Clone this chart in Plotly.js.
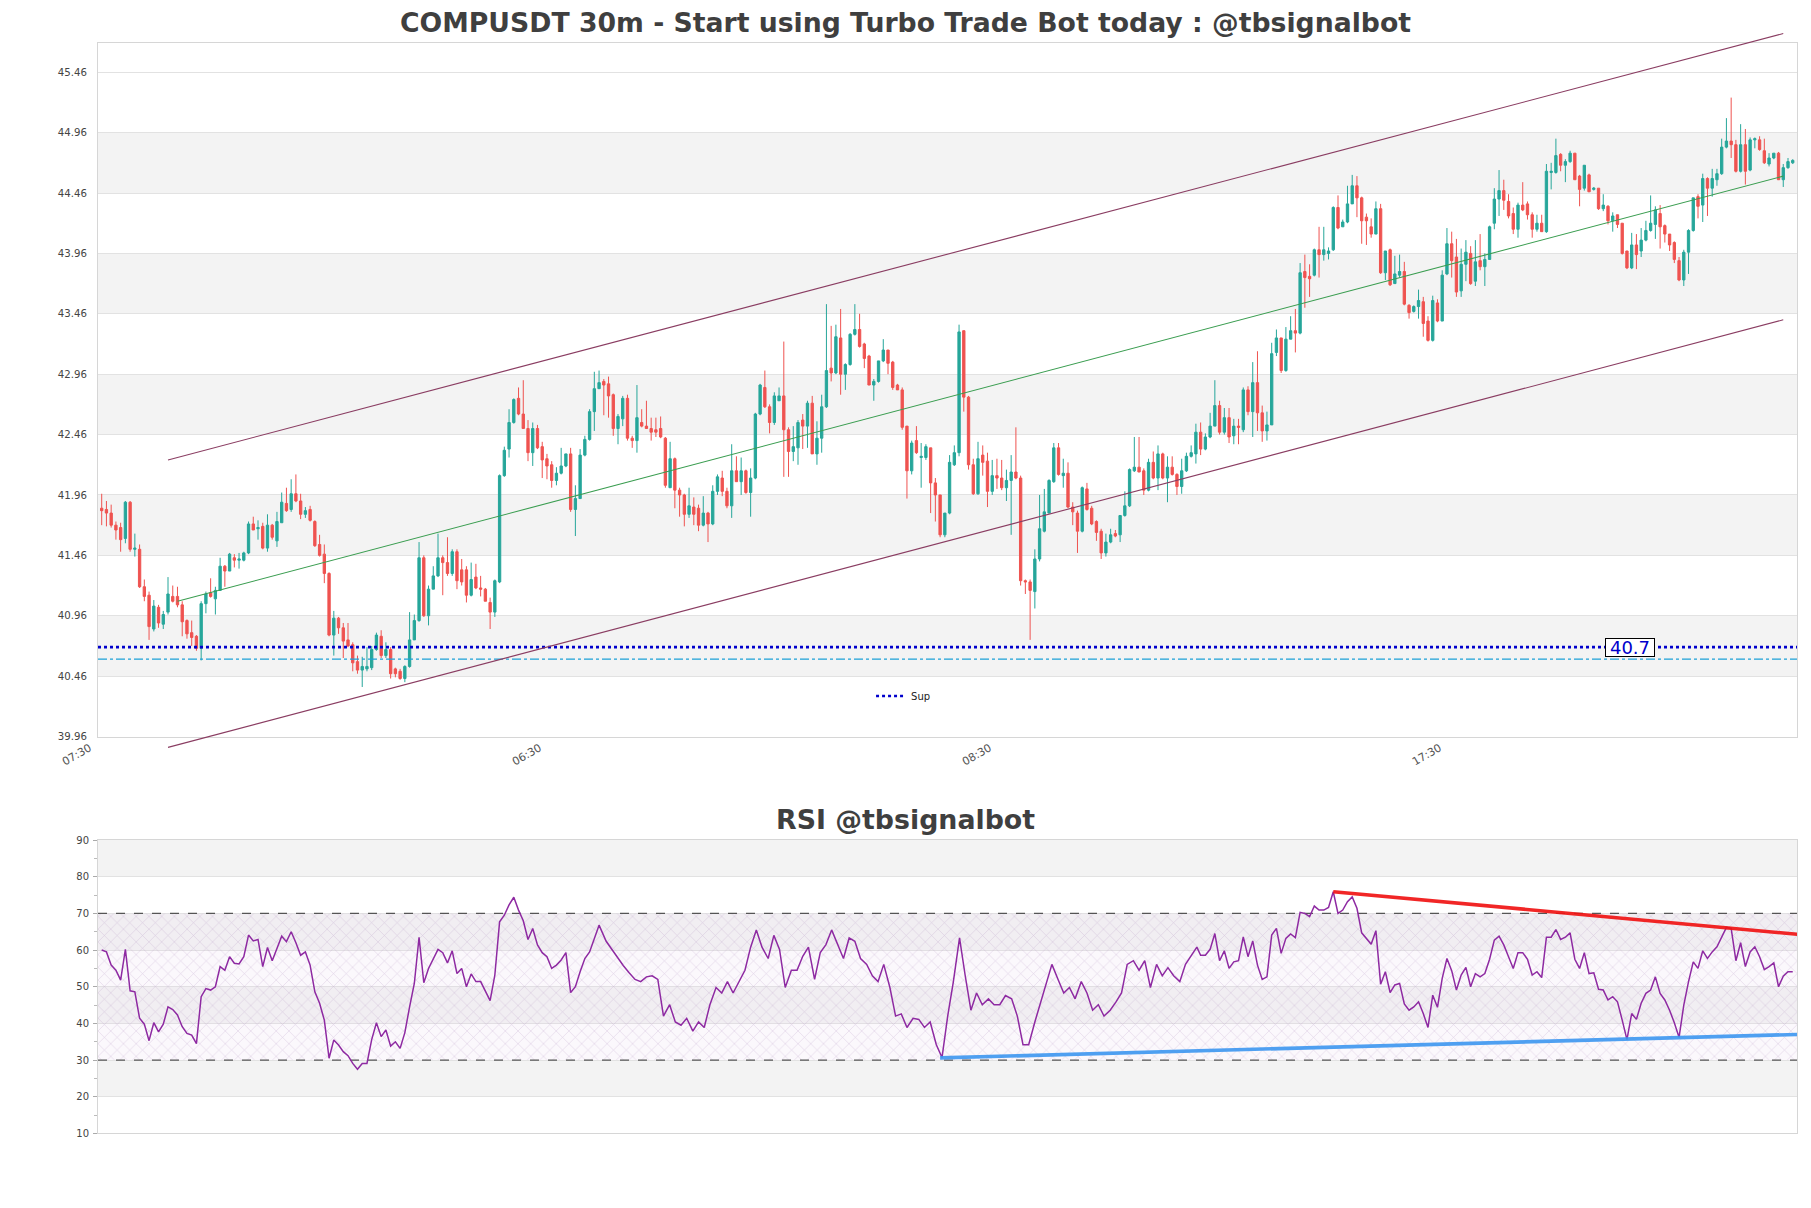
<!DOCTYPE html>
<html><head><meta charset="utf-8">
<script src="https://cdn.plot.ly/plotly-3.0.1.min.js"></script>
<style>html,body{margin:0;padding:0;background:#fff}</style>
</head><body><div id="chart" style="width:1811px;height:1208px"></div>
<script>
const xTickIdx=[0,95,190,285];
const xTickLabels=["07:30","06:30","08:30","17:30"];

const openP=[41.85,41.84,41.81,41.71,41.69,41.60,41.90,41.51,41.51,41.20,
41.13,40.85,41.03,40.89,40.99,41.12,41.12,41.05,40.92,40.82,
40.79,40.69,41.06,41.15,41.10,41.17,41.37,41.33,41.44,41.42,
41.42,41.48,41.72,41.68,41.70,41.52,41.71,41.58,41.73,41.89,
41.84,41.97,41.91,41.80,41.84,41.74,41.55,41.47,41.31,40.80,
40.94,40.86,40.76,40.72,40.58,40.51,40.52,40.53,40.68,
40.79,40.63,40.68,40.52,40.50,40.44,40.54,40.76,40.92,41.44,40.96,
41.18,41.29,41.44,41.40,41.31,41.49,41.34,41.34,41.13,41.28,
41.19,41.18,41.07,40.99,41.24,42.12,42.34,42.56,42.76,42.63,
42.51,42.31,42.51,42.36,42.26,42.21,42.08,42.14,42.20,42.30,
41.84,41.93,42.29,42.42,42.65,42.84,42.90,42.88,42.79,42.51,
42.59,42.76,42.43,42.41,42.56,42.53,42.51,42.50,42.51,42.43,
42.02,42.26,42.00,41.96,41.80,41.86,41.85,41.71,41.81,41.72,
41.99,42.10,41.99,41.87,42.16,42.07,42.16,41.98,42.10,42.63,
42.85,42.69,42.56,42.74,42.78,42.50,42.32,42.35,42.58,42.53,
42.72,42.30,42.43,42.69,43.01,42.97,43.26,42.96,43.04,43.29,
43.33,43.21,43.11,42.87,42.90,43.07,43.16,43.06,42.87,42.83,
42.53,42.16,42.41,42.27,42.27,42.35,42.06,41.96,41.63,41.81,
42.21,42.31,43.32,42.77,42.21,41.97,42.29,42.24,41.99,42.12,
42.10,42.02,42.08,42.15,42.10,41.25,41.24,41.16,41.43,41.66,
41.81,42.07,42.35,42.12,42.14,41.86,41.81,41.66,42.01,41.85,
41.74,41.66,41.48,41.57,41.64,41.63,41.79,41.87,42.16,42.19,
42.16,42.00,42.23,42.10,42.30,42.10,42.19,42.13,42.03,42.16,
42.28,42.30,42.48,42.34,42.44,42.53,42.70,42.48,42.60,
42.45,42.53,42.50,42.83,42.65,42.89,42.64,42.49,42.54,43.14,43.26,
42.99,43.25,43.32,43.30,43.81,43.77,43.78,43.99,43.95,43.96,
43.99,44.34,44.18,44.22,44.37,44.52,44.42,44.26,44.18,44.12,
44.33,43.80,43.99,43.71,43.78,43.81,43.53,43.48,43.52,43.56,
43.40,43.24,43.55,43.40,43.79,44.04,43.93,43.65,43.87,43.96,
43.73,43.90,43.85,43.91,44.21,44.41,44.48,44.39,44.29,
44.16,44.36,44.37,44.28,44.16,44.21,44.14,44.63,44.63,44.78,44.69,
44.72,44.79,44.60,44.50,44.61,44.49,44.50,44.33,44.35,44.23,
44.28,44.21,43.98,43.84,44.03,43.98,44.07,44.15,44.20,44.29,
44.19,44.12,44.05,43.90,43.74,43.97,44.15,44.43,44.36,44.58,
44.50,44.57,44.62,44.84,44.89,44.86,44.64,44.86,44.65,44.90,
44.90,44.81,44.70,44.75,44.79,44.57,44.67,44.71];

const highP=[41.97,41.91,41.88,41.74,41.73,41.91,41.91,41.64,41.55,41.26,
41.16,41.09,41.05,41.00,41.28,41.21,41.20,41.08,40.93,40.92,
40.80,41.08,41.16,41.27,41.20,41.44,41.38,41.48,41.47,41.48,
41.49,41.74,41.78,41.75,41.73,41.80,41.72,41.82,41.98,42.02,
42.09,42.13,41.97,41.86,41.87,41.75,41.63,41.55,41.32,41.00,
40.95,40.90,40.90,40.74,40.63,40.62,40.70,40.71,40.82,
40.84,40.74,40.70,40.53,40.52,40.55,40.99,40.97,41.57,41.46,41.21,
41.37,41.64,41.46,41.61,41.51,41.51,41.43,41.37,41.40,41.39,
41.29,41.19,41.11,41.26,42.13,42.36,42.67,42.76,42.85,42.91,
42.58,42.56,42.54,42.40,42.30,42.24,42.19,42.35,42.30,42.35,
42.04,42.34,42.45,42.67,42.98,42.99,42.92,42.94,42.80,42.63,
42.78,42.79,42.45,42.87,42.67,42.74,42.60,42.60,42.61,42.44,
42.40,42.27,42.02,41.97,42.02,41.94,41.88,41.95,41.82,42.04,
42.13,42.16,42.02,42.38,42.28,42.27,42.17,42.18,42.64,42.88,
42.99,42.71,42.81,42.85,43.23,42.52,42.53,42.58,42.63,42.74,
42.78,42.57,42.79,43.54,43.36,43.37,43.50,43.05,43.30,43.54,
43.46,43.22,43.12,42.92,43.07,43.25,43.16,43.07,42.88,42.85,
42.53,42.41,42.53,42.39,42.38,42.35,42.10,41.96,41.81,42.29,
42.37,43.37,43.32,42.78,42.26,42.40,42.37,42.31,42.25,42.26,
42.25,42.17,42.29,42.52,42.12,41.26,41.26,41.51,41.96,42.01,
42.09,42.39,42.39,42.26,42.23,41.90,41.83,42.03,42.06,41.87,
41.75,41.68,41.64,41.68,41.67,41.79,41.99,42.18,42.44,42.44,
42.18,42.26,42.32,42.37,42.31,42.28,42.28,42.14,42.26,42.31,
42.37,42.55,42.56,42.47,42.64,42.91,42.74,42.68,42.68,
42.59,42.59,42.85,42.86,43.06,43.15,42.70,42.65,43.22,43.33,43.26,
43.35,43.44,43.50,43.88,43.95,43.87,44.00,44.18,44.18,44.01,
44.35,44.44,44.24,44.52,44.61,44.60,44.43,44.29,44.25,44.39,
44.37,43.98,44.00,43.94,43.95,43.89,43.54,43.53,43.66,43.60,
43.44,43.61,43.58,43.82,44.17,44.14,44.08,44.00,44.07,44.02,
44.07,44.12,43.96,44.19,44.50,44.65,44.57,44.45,44.34,
44.38,44.55,44.39,44.30,44.28,44.28,44.70,44.71,44.91,44.79,44.74,
44.81,44.79,44.61,44.69,44.62,44.51,44.50,44.45,44.36,44.30,
44.28,44.21,43.98,44.13,44.12,44.17,44.23,44.44,44.35,44.36,
44.20,44.12,44.06,43.93,43.99,44.16,44.42,44.45,44.62,44.59,
44.66,44.66,44.91,45.08,45.25,44.90,45.03,44.99,44.92,44.92,
44.93,44.91,44.79,44.79,44.80,44.70,44.75,44.74];

const lowP=[41.71,41.70,41.69,41.59,41.49,41.56,41.49,41.45,41.19,41.08,
40.76,40.83,40.86,40.85,40.97,41.07,41.03,40.79,40.77,40.71,
40.67,40.59,40.98,41.11,40.97,41.17,41.20,41.33,41.36,41.35,
41.41,41.47,41.67,41.59,41.51,41.49,41.59,41.53,41.73,41.82,
41.82,41.90,41.76,41.77,41.74,41.53,41.45,41.23,40.79,40.63,
40.81,40.61,40.70,40.50,40.48,40.37,40.50,40.51,40.67,
40.61,40.61,40.44,40.45,40.43,40.41,40.53,40.76,40.91,40.95,40.88,
41.18,41.28,41.13,41.29,41.29,41.18,41.21,41.07,41.12,41.18,
41.12,41.08,40.85,40.95,41.23,42.11,42.27,42.55,42.62,42.51,
42.24,42.20,42.34,42.10,42.09,42.02,42.04,42.13,42.19,41.82,
41.62,41.93,42.28,42.41,42.49,42.84,42.62,42.60,42.45,42.38,
42.53,42.41,42.35,42.31,42.52,42.51,42.41,42.44,42.43,42.02,
42.02,41.85,41.78,41.70,41.77,41.71,41.66,41.70,41.57,41.71,
41.96,41.95,41.85,41.77,42.07,41.96,41.97,41.78,42.09,42.62,
42.68,42.47,42.54,42.74,42.11,42.11,42.24,42.21,42.34,42.35,
42.30,42.21,42.31,42.68,42.90,42.96,42.79,42.83,43.03,43.28,
43.18,43.01,42.87,42.74,42.89,43.06,42.96,42.83,42.83,42.50,
41.93,42.13,42.30,42.02,42.25,41.81,41.74,41.61,41.61,41.80,
42.20,42.28,42.65,42.17,41.96,41.96,42.12,41.86,41.96,42.01,
42.00,41.91,41.63,42.09,41.21,41.14,40.76,41.02,41.41,41.65,
41.81,42.06,42.12,42.02,41.85,41.71,41.48,41.65,41.83,41.71,
41.58,41.43,41.45,41.56,41.61,41.57,41.78,41.86,42.15,42.15,
41.96,41.99,42.09,42.00,42.09,41.90,42.12,41.96,41.97,42.15,
42.27,42.22,42.29,42.33,42.43,42.53,42.46,42.46,42.39,
42.38,42.38,42.48,42.62,42.44,42.49,42.40,42.41,42.54,43.11,42.97,
42.98,43.25,43.14,43.29,43.51,43.60,43.77,43.76,43.90,43.91,
43.98,44.16,44.18,44.21,44.37,44.26,44.04,44.03,44.09,44.12,
43.79,43.74,43.69,43.71,43.76,43.53,43.42,43.47,43.42,43.27,
43.23,43.23,43.39,43.40,43.78,43.76,43.60,43.60,43.73,43.70,
43.69,43.82,43.69,43.91,44.16,44.27,44.32,44.25,44.12,
44.09,44.31,44.24,44.09,44.14,44.14,44.13,44.49,44.62,44.64,44.55,
44.71,44.57,44.35,44.48,44.47,44.48,44.32,44.31,44.20,44.14,
44.17,43.95,43.83,43.83,43.83,43.93,44.06,44.14,44.08,44.00,
44.05,43.98,43.88,43.73,43.69,43.79,44.14,44.25,44.22,44.27,
44.43,44.52,44.61,44.83,44.75,44.63,44.63,44.53,44.64,44.83,
44.81,44.70,44.68,44.74,44.57,44.51,44.66,44.70];

const closeP=[41.83,41.81,41.71,41.67,41.59,41.90,41.51,41.52,41.20,41.12,
40.87,41.04,40.90,40.97,41.14,41.08,41.05,40.91,40.81,40.78,
40.69,41.06,41.14,41.12,41.17,41.37,41.33,41.47,41.42,41.43,
41.48,41.72,41.67,41.69,41.52,41.71,41.61,41.74,41.90,41.83,
41.97,41.91,41.80,41.83,41.75,41.54,41.46,41.31,40.80,40.94,
40.86,40.75,40.71,40.57,40.51,40.54,40.54,40.68,40.80,
40.63,40.68,40.48,40.48,40.44,40.54,40.76,40.92,41.44,40.96,41.18,
41.29,41.44,41.40,41.31,41.49,41.25,41.24,41.13,41.26,41.19,
41.18,41.08,40.99,41.25,42.12,42.33,42.56,42.75,42.63,42.51,
42.31,42.51,42.35,42.25,42.20,42.08,42.14,42.20,42.30,41.84,
41.93,42.29,42.42,42.65,42.84,42.89,42.87,42.78,42.51,42.61,
42.76,42.43,42.41,42.60,42.53,42.51,42.48,42.48,42.44,42.04,
42.26,42.00,41.96,41.80,41.87,41.80,41.71,41.81,41.72,41.99,
42.11,41.99,41.87,42.16,42.07,42.16,41.98,42.10,42.63,42.87,
42.69,42.56,42.78,42.78,42.50,42.32,42.36,42.56,42.53,42.72,
42.30,42.43,42.69,42.99,42.97,43.27,42.96,43.04,43.29,43.33,
43.19,43.09,42.87,42.90,43.07,43.16,43.05,42.85,42.83,42.52,
42.16,42.39,42.31,42.28,42.36,42.06,41.96,41.63,41.81,42.23,
42.31,43.31,42.77,42.21,41.97,42.26,42.23,41.99,42.12,42.10,
42.02,42.08,42.15,42.10,41.25,41.24,41.17,41.43,41.68,41.82,
42.08,42.35,42.13,42.14,41.86,41.82,41.66,42.02,41.84,41.72,
41.65,41.48,41.57,41.63,41.62,41.79,41.87,42.17,42.19,42.15,
42.00,42.23,42.10,42.30,42.10,42.19,42.13,42.03,42.16,42.28,
42.31,42.48,42.34,42.44,42.53,42.70,42.48,42.60,42.44,
42.53,42.52,42.83,42.65,42.89,42.64,42.49,42.54,43.13,43.26,42.99,
43.25,43.32,43.30,43.80,43.76,43.75,43.99,43.95,43.99,43.98,
44.34,44.17,44.22,44.37,44.52,44.42,44.23,44.23,44.12,44.33,
43.80,43.98,43.70,43.79,43.81,43.54,43.47,43.52,43.57,43.38,
43.24,43.57,43.40,43.78,44.04,43.90,43.64,43.87,43.97,43.71,
43.89,43.85,43.91,44.18,44.41,44.48,44.40,44.27,44.16,
44.36,44.32,44.28,44.16,44.21,44.14,44.64,44.64,44.77,44.69,44.72,
44.79,44.57,44.49,44.69,44.47,44.50,44.33,44.36,44.23,44.27,
44.20,43.96,43.84,44.03,43.95,44.07,44.15,44.21,44.32,44.18,
44.12,44.03,43.91,43.74,43.97,44.15,44.42,44.35,44.58,44.50,
44.58,44.62,44.84,44.89,44.86,44.64,44.86,44.64,44.90,44.91,
44.82,44.71,44.75,44.79,44.57,44.67,44.72,44.73];

// regression channel (index, price)
const channelIdx=[14,355];
const channelUpper=[42.25,45.78];
const channelLower=[39.87,43.41];
const midIdx=[16,355];
const channelMid=[41.08,44.60];

const supLevel=40.7;
const cyanLevel=40.6;
const supLabelIdx=322.7;

// RSI values
const rsiStart=[60.0,59.5,55.9,54.5,51.8,60.2,48.9,48.6,41.4,39.8,
35.3,40.2,37.7,39.8,44.5,43.8,42.3,39.1,37.3,36.8,
34.5,47.3,49.5,49.1,50.0,55.5,54.5,58.2,56.4,56.2,
58.2,64.1,62.5,62.9,55.5,60.7,57.1,60.5,63.8,62.3,
65.0,62.0,58.6,59.5,55.9,48.6,45.5,40.9,30.5,35.5,
34.1,32.3,31.2,29.1,27.5,29.1,29.1,35.6,40.2,36.4,
38.2,33.8,35.0,33.2,37.5,44.5,50.9,63.5,51.1,55.0,
57.7,60.2,59.3,56.5,59.8,53.6,55.0,50.0,53.5,51.4,
51.4,48.6,46.2,53.2,67.7,69.5,72.3,74.4,70.9,68.0,
62.9,65.9,61.4,59.3,58.2,55.0,55.9,57.3,59.3,48.4,
50.0,54.1,57.7,59.5,62.9,66.8];
const rsiMidIdx=[106.5,107.7,108.9,110.1,111.3,112.6,113.8,115.0,116.2,117.4,118.6,119.9,121.1,122.3,123.5,124.8,126.0,127.2,128.4,129.7,130.9,132.1,133.3,134.6,135.8,137.0,138.2,139.4,140.7,141.9,143.1,144.3,145.6,146.8,148.0,149.2,150.5,151.7,152.9,154.1,155.4,156.6,157.8,159.0,160.2,161.5,162.7,163.9,165.1,166.4,167.6,168.8,170.0,171.3,172.5,173.7,174.9,176.2,177.4,178.6,179.8,181.1,182.3,183.5,184.7,185.9,187.2,188.4,189.6,190.8,192.1,193.3,194.5,195.7,197.0,198.2,199.4,200.6,201.9,203.1,204.3,205.5,206.8,208.0,209.2,210.4,211.6,212.9,214.1,215.3,216.5,217.8,219.0,220.2,221.4,222.7,223.9,225.1,226.3,227.6,228.8,230.0,231.2];
const rsiMid=[62.4,60.2,57.7,55.8,53.9,52.0,51.4,52.7,53.0,52.0,42.0,45.1,40.4,39.5,41.4,37.9,40.4,38.9,45.1,49.8,48.3,51.4,48.3,51.4,54.5,60.8,65.5,60.8,57.7,64.0,60.2,49.8,54.5,54.5,58.3,60.8,52.0,59.3,61.5,65.5,61.5,57.7,63.3,62.4,57.7,56.1,53.0,51.4,56.1,49.8,42.0,42.6,38.9,41.4,41.1,38.9,40.4,34.2,30.7,42.0,51.4,63.3,53.0,43.6,48.3,45.1,46.7,45.1,45.1,47.6,46.7,42.0,34.2,34.2,40.4,45.8,51.4,56.1,52.0,48.3,49.8,46.7,51.4,48.3,43.6,45.1,42.0,43.6,45.8,48.3,56.1,57.1,54.5,57.1,49.8,56.1,53.0,55.2,53.0,51.4,56.1,58.3,60.8];
const rsiEnd=[58.6,58.6,60.2,64.5,57.1,59.8,55.0,56.8,57.1,63.6,
58.2,62.5,55.9,52.0,52.7,64.1,65.9,59.1,63.2,64.4,
63.4,70.3,70.0,69.1,72.0,70.9,70.9,71.6,75.9,70.0,
70.9,73.2,74.5,71.4,64.7,63.2,61.6,65.3,50.7,54.1,
48.4,50.5,50.9,45.3,43.6,44.5,45.9,42.7,38.9,47.7,
44.4,52.3,57.7,54.4,49.1,53.2,55.3,50.0,53.6,52.7,
53.6,57.5,62.7,63.8,61.4,58.2,55.0,59.3,59.3,57.5,
53.2,54.1,52.5,63.5,63.5,65.6,62.9,63.5,64.7,57.5,
55.0,59.3,53.6,53.8,49.3,49.1,46.4,47.3,45.9,40.9,
35.6,42.7,41.1,45.5,48.2,49.1,52.7,48.2,46.4,43.6,
40.2,36.2,45.0,51.4,56.8,55.0,59.8,57.7,59.5,60.9,
63.6,66.2,65.9,57.1,62.0,55.5,59.5,60.9,58.2,54.7,
55.5,56.5,50.0,52.9,54.1,54.1];
const rsiEndStart=232;

const rsiLevels=[70,30];
const resTrendIdx=[260,358];
const resTrendVal=[75.9,64.3];
const supTrendIdx=[177,358];
const supTrendVal=[30.6,37.0];

// ---------- build ----------
const N=openP.length;
const idx=[...Array(N).keys()];
const xRange=[-0.78,357.9];
const rsiX=[], rsiY=[];
rsiStart.forEach((v,i)=>{rsiX.push(i);rsiY.push(v);});
rsiMid.forEach((v,i)=>{rsiX.push(rsiMidIdx[i]);rsiY.push(v);});
rsiEnd.forEach((v,i)=>{rsiX.push(rsiEndStart+i);rsiY.push(v);});

// main price axis geometry; a hidden overlay axis with identical scale but a taller
// domain lets the channel lines run past the plot frame, as in the original.
const mainDom=[0.3903,0.9642], mainRange=[39.96,45.70];
const ghostDom=[0.35,0.995];
const ppd=(mainRange[1]-mainRange[0])/(mainDom[1]-mainDom[0]);
const ghostRange=[mainRange[0]-(mainDom[0]-ghostDom[0])*ppd, mainRange[1]+(ghostDom[1]-mainDom[1])*ppd];

const FONT='DejaVu Sans';
const traces=[];
traces.push({type:'candlestick',x:idx,open:openP,high:highP,low:lowP,close:closeP,
  xaxis:'x',yaxis:'y',showlegend:false,whiskerwidth:0,
  increasing:{line:{color:'#26a69a',width:1},fillcolor:'#26a69a'},
  decreasing:{line:{color:'#ef5350',width:1},fillcolor:'#ef5350'},hoverinfo:'skip'});
traces.push({type:'scatter',mode:'lines',x:xRange,y:[supLevel,supLevel],xaxis:'x',yaxis:'y',name:'Sup',showlegend:true,line:{color:'#0000cc',width:2.6,dash:'dot'}});
traces.push({type:'scatter',mode:'lines',x:xRange,y:[cyanLevel,cyanLevel],xaxis:'x',yaxis:'y',showlegend:false,line:{color:'#1da1d8',width:1.3,dash:'dashdot'}});
traces.push({type:'scatter',mode:'lines',x:channelIdx,y:channelUpper,xaxis:'x3',yaxis:'y3',showlegend:false,line:{color:'#8a3d62',width:1.1}});
traces.push({type:'scatter',mode:'lines',x:channelIdx,y:channelLower,xaxis:'x3',yaxis:'y3',showlegend:false,line:{color:'#8a3d62',width:1.1}});
traces.push({type:'scatter',mode:'lines',x:midIdx,y:channelMid,xaxis:'x3',yaxis:'y3',showlegend:false,line:{color:'#3a9d50',width:1.1}});

// RSI hatch zone
traces.push({type:'scatter',mode:'lines',x:xRange,y:[rsiLevels[1],rsiLevels[1]],xaxis:'x2',yaxis:'y2',showlegend:false,line:{width:0},hoverinfo:'skip'});
traces.push({type:'scatter',mode:'lines',x:xRange,y:[rsiLevels[0],rsiLevels[0]],xaxis:'x2',yaxis:'y2',showlegend:false,line:{width:0},fill:'tonexty',
  fillcolor:'rgba(214,190,226,0.18)',fillpattern:{shape:'x',fgcolor:'rgba(170,140,190,0.38)',bgcolor:'rgba(225,205,235,0.15)',size:9,solidity:0.12},hoverinfo:'skip'});
rsiLevels.forEach(l=>traces.push({type:'scatter',mode:'lines',x:xRange,y:[l,l],xaxis:'x2',yaxis:'y2',showlegend:false,line:{color:'#555',width:1.2,dash:'dash'}}));
traces.push({type:'scatter',mode:'lines',x:rsiX,y:rsiY,xaxis:'x2',yaxis:'y2',showlegend:false,line:{color:'#8e2aa2',width:1.5}});
traces.push({type:'scatter',mode:'lines',x:resTrendIdx,y:resTrendVal,xaxis:'x2',yaxis:'y2',showlegend:false,line:{color:'rgba(240,20,20,0.92)',width:3.6}});
traces.push({type:'scatter',mode:'lines',x:supTrendIdx,y:supTrendVal,xaxis:'x2',yaxis:'y2',showlegend:false,line:{color:'rgba(60,150,240,0.9)',width:3.6}});

// bands
const shapes=[];
const mainTicks=[];for(let v=39.96;v<45.7;v+=0.5)mainTicks.push(+v.toFixed(2));
for(let i=1;i<mainTicks.length-1;i+=2){shapes.push({type:'rect',xref:'x domain',yref:'y',x0:0,x1:1,y0:mainTicks[i],y1:mainTicks[i+1],fillcolor:'#f3f3f3',line:{width:0},layer:'below'});}
const rsiTicks=[10,20,30,40,50,60,70,80,90];
for(let i=1;i<rsiTicks.length-1;i+=2){shapes.push({type:'rect',xref:'x2 domain',yref:'y2',x0:0,x1:1,y0:rsiTicks[i],y1:rsiTicks[i+1],fillcolor:'#f3f3f3',line:{width:0},layer:'below'});}

const axisLine={showline:true,mirror:true,linecolor:'#d6d6d6',linewidth:1,zeroline:false};
const layout={
  width:1811,height:1208,paper_bgcolor:'#fff',plot_bgcolor:'rgba(0,0,0,0)',
  margin:{l:98,r:14,t:0,b:0},
  font:{family:FONT,color:'#444'},
  title:{text:'<b>COMPUSDT 30m - Start using Turbo Trade Bot today : @tbsignalbot</b>',font:{family:FONT,size:26.7,color:'#3f3f3f'},xref:'container',x:0.5,xanchor:'center',yref:'container',y:0.981,yanchor:'middle'},
  xaxis:Object.assign({domain:[0,1],anchor:'y',range:xRange,tickmode:'array',tickvals:xTickIdx,ticktext:xTickLabels,tickangle:-30,tickfont:{size:11,color:'#555'},ticklabelshift:-12,showgrid:false,rangeslider:{visible:false},ticks:''},axisLine),
  yaxis:Object.assign({domain:mainDom,range:mainRange,tickmode:'array',tickvals:mainTicks,ticktext:mainTicks.map(v=>v.toFixed(2)),tickfont:{size:10.2,color:'#444'},ticklabelstandoff:8,gridcolor:'#e2e2e2',ticks:''},axisLine),
  xaxis2:Object.assign({domain:[0,1],anchor:'y2',range:xRange,showticklabels:false,showgrid:false,ticks:''},axisLine),
  yaxis2:Object.assign({domain:[0.0617,0.3046],range:[10,90],tickvals:rsiTicks,tickfont:{size:10,color:'#444'},ticklabelstandoff:2,gridcolor:'#e2e2e2',ticks:'outside',ticklen:4,tickcolor:'#aaa',
    minor:{dtick:5,tick0:5,ticks:'outside',ticklen:3,tickcolor:'#bbb',showgrid:false}},axisLine),
  xaxis3:{domain:[0,1],anchor:'y3',range:xRange,visible:false,showgrid:false,zeroline:false},
  yaxis3:{domain:ghostDom,anchor:'x3',range:ghostRange,visible:false,showgrid:false,zeroline:false},
  showlegend:true,
  legend:{x:0.455,y:0.4238,xanchor:'left',yanchor:'middle',bgcolor:'rgba(0,0,0,0)',font:{size:10,color:'#222'}},
  shapes:shapes,
  annotations:[
    {text:'<b>RSI @tbsignalbot</b>',xref:'paper',yref:'paper',x:0.4753,y:0.3212,xanchor:'center',yanchor:'middle',showarrow:false,font:{family:FONT,size:26.8,color:'#3f3f3f'}},
    {text:String(supLevel),xref:'x',yref:'y',x:supLabelIdx,y:supLevel,showarrow:false,font:{family:FONT,size:18,color:'#0000cc'},bgcolor:'#fff',bordercolor:'#000',borderwidth:1,borderpad:0,width:48,height:17}
  ]
};
Plotly.newPlot('chart',traces,layout,{displayModeBar:false,staticPlot:true});
</script></body></html>
